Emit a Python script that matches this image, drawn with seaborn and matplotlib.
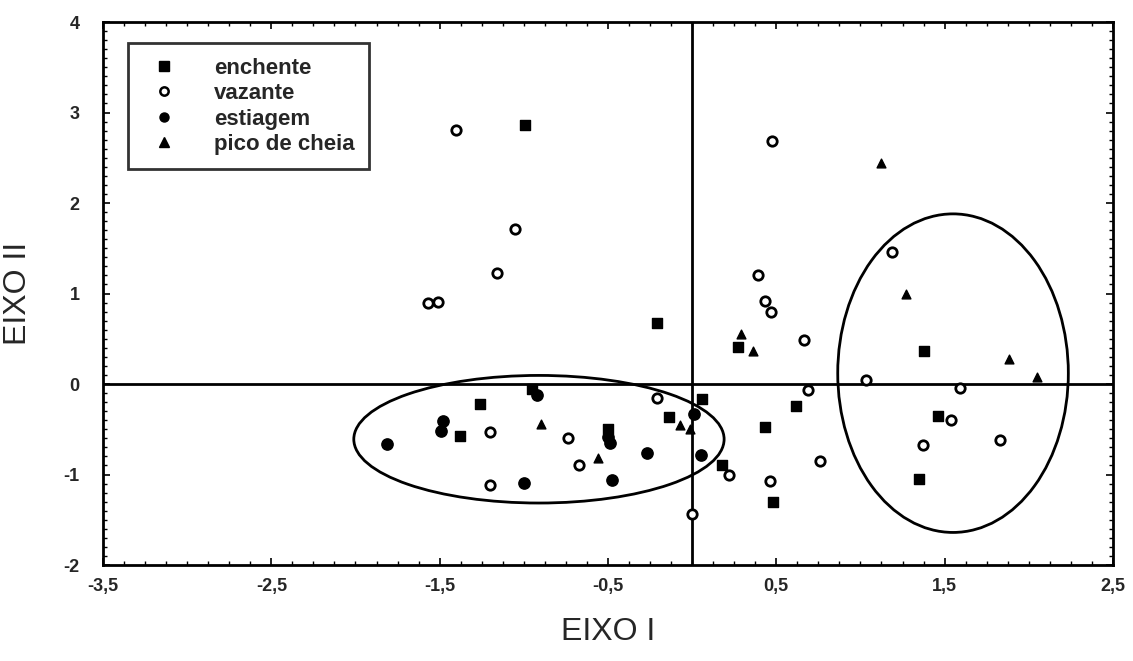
import numpy as np
import pandas as pd
import matplotlib
matplotlib.use("Agg")
import matplotlib.pyplot as plt
from matplotlib.patches import Ellipse
from matplotlib.lines import Line2D
from matplotlib.ticker import MultipleLocator, FuncFormatter
import seaborn as sns

# Ordination scores (Eixo I, Eixo II) per hydrological period
enchente_x = [-0.99, -0.21, 0.27, 0.62, 0.43, 0.48, 1.38, 1.46, 1.35,
              -1.26, -1.38, -0.95, -0.14, 0.06, 0.18, -0.50]
enchente_y = [2.86, 0.67, 0.41, -0.24, -0.47, -1.30, 0.37, -0.35, -1.05,
              -0.22, -0.57, -0.05, -0.36, -0.17, -0.90, -0.50]

vazante_x = [-1.40, 0.475, -1.05, -1.16, -1.57, -1.51, 1.19, 0.39, 0.43,
             0.47, 0.665, 0.69, 1.03, 1.59, 1.54, 1.37, 1.83, 0.76, 0.46,
             0.22, 0.00, -0.21, -1.20, -1.20, -0.74, -0.67]
vazante_y = [2.81, 2.68, 1.71, 1.23, 0.89, 0.91, 1.46, 1.21, 0.92,
             0.80, 0.49, -0.07, 0.04, -0.04, -0.40, -0.67, -0.62, -0.85, -1.07,
             -1.00, -1.44, -0.16, -0.53, -1.12, -0.60, -0.90]

estiagem_x = [-1.81, -1.48, -1.49, -0.92, -1.00, -0.475, -0.27, 0.05, 0.01,
              -0.50, -0.49]
estiagem_y = [-0.66, -0.41, -0.52, -0.12, -1.09, -1.06, -0.76, -0.78, -0.33,
              -0.58, -0.65]

pico_x = [1.12, 1.27, 1.88, 2.05, 0.29, 0.36, -0.90, -0.56, -0.07, -0.01]
pico_y = [2.44, 0.99, 0.28, 0.08, 0.55, 0.37, -0.44, -0.82, -0.45, -0.50]

periods = ["enchente", "vazante", "estiagem", "pico de cheia"]

# Group ellipses: centre (x, y), full width, full height
ellipse_centers = [(-0.91, -0.61), (1.55, 0.12)]
ellipse_widths = [2.20, 1.37]
ellipse_heights = [1.41, 3.52]

x_ticks = [-3.5, -2.5, -1.5, -0.5, 0.5, 1.5, 2.5]
y_ticks = [-2, -1, 0, 1, 2, 3, 4]

df = pd.concat([
    pd.DataFrame({"x": enchente_x, "y": enchente_y, "periodo": "enchente"}),
    pd.DataFrame({"x": vazante_x, "y": vazante_y, "periodo": "vazante"}),
    pd.DataFrame({"x": estiagem_x, "y": estiagem_y, "periodo": "estiagem"}),
    pd.DataFrame({"x": pico_x, "y": pico_y, "periodo": "pico de cheia"}),
], ignore_index=True)

sns.set_style("ticks")
plt.rcParams["font.family"] = ["Liberation Sans", "DejaVu Sans"]

styles = {
    "enchente": dict(marker="s", s=60, facecolor="black", edgecolor="black", linewidth=1.0),
    "vazante": dict(marker="o", s=46, facecolor="white", edgecolor="black", linewidth=2.0),
    "estiagem": dict(marker="o", s=66, facecolor="black", edgecolor="black", linewidth=1.0),
    "pico de cheia": dict(marker="^", s=40, facecolor="black", edgecolor="black", linewidth=1.0),
}

fig = plt.figure(figsize=(11.33, 6.61), dpi=100)
ax = fig.add_axes([0.0909, 0.1452, 0.8914, 0.8215])

ax.axhline(0, color="black", lw=2.0, zorder=1)
ax.axvline(0, color="black", lw=2.0, zorder=1)

for c, w, h in zip(ellipse_centers, ellipse_widths, ellipse_heights):
    ax.add_patch(Ellipse(c, w, h, fill=False, edgecolor="black", lw=2.0, zorder=2))

for p in periods:
    sub = df[df["periodo"] == p]
    st = styles[p]
    sns.scatterplot(data=sub, x="x", y="y", ax=ax, marker=st["marker"], s=st["s"],
                    facecolor=st["facecolor"], edgecolor=st["edgecolor"],
                    linewidth=st["linewidth"], zorder=3, legend=False)

ax.set_xlim(-3.5, 2.5)
ax.set_ylim(-2, 4)
ax.set_xticks(x_ticks)
ax.set_yticks(y_ticks)
ax.xaxis.set_major_formatter(FuncFormatter(lambda v, _: f"{v:.1f}".replace(".", ",")))
ax.yaxis.set_major_formatter(FuncFormatter(lambda v, _: f"{v:.0f}"))
ax.xaxis.set_minor_locator(MultipleLocator(0.125))
ax.yaxis.set_minor_locator(MultipleLocator(0.1))
ax.tick_params(which="both", direction="in", top=True, right=True, color="black")
ax.tick_params(which="major", length=5, width=1.2, labelsize=13, pad=9)
ax.tick_params(which="minor", length=3, width=1.0)
for lab in ax.get_xticklabels() + ax.get_yticklabels():
    lab.set_fontweight("bold")
ax.tick_params(axis="y", pad=17)

for sp in ax.spines.values():
    sp.set_visible(True)
    sp.set_linewidth(2.0)
    sp.set_color("black")

ax.set_xlabel("EIXO I", fontsize=23, labelpad=16)
ax.set_ylabel("EIXO II", fontsize=23, labelpad=22)

handles = []
for p in periods:
    st = styles[p]
    handles.append(Line2D([], [], linestyle="none", marker=st["marker"],
                          markersize=6.5 if p != "vazante" else 6,
                          markerfacecolor=st["facecolor"], markeredgecolor="black",
                          markeredgewidth=1.8 if p == "vazante" else 1.0, label=p))
leg = ax.legend(handles=handles, loc="upper left", bbox_to_anchor=(0.025, 0.961),
                frameon=True, fancybox=False, prop={"weight": "bold", "size": 16},
                handletextpad=1.3, labelspacing=0.2, borderpad=0.65,
                borderaxespad=0, handlelength=1.9)
leg.get_frame().set_edgecolor("black")
leg.get_frame().set_linewidth(2.0)

fig.savefig("out.png", dpi=100, facecolor="white")
